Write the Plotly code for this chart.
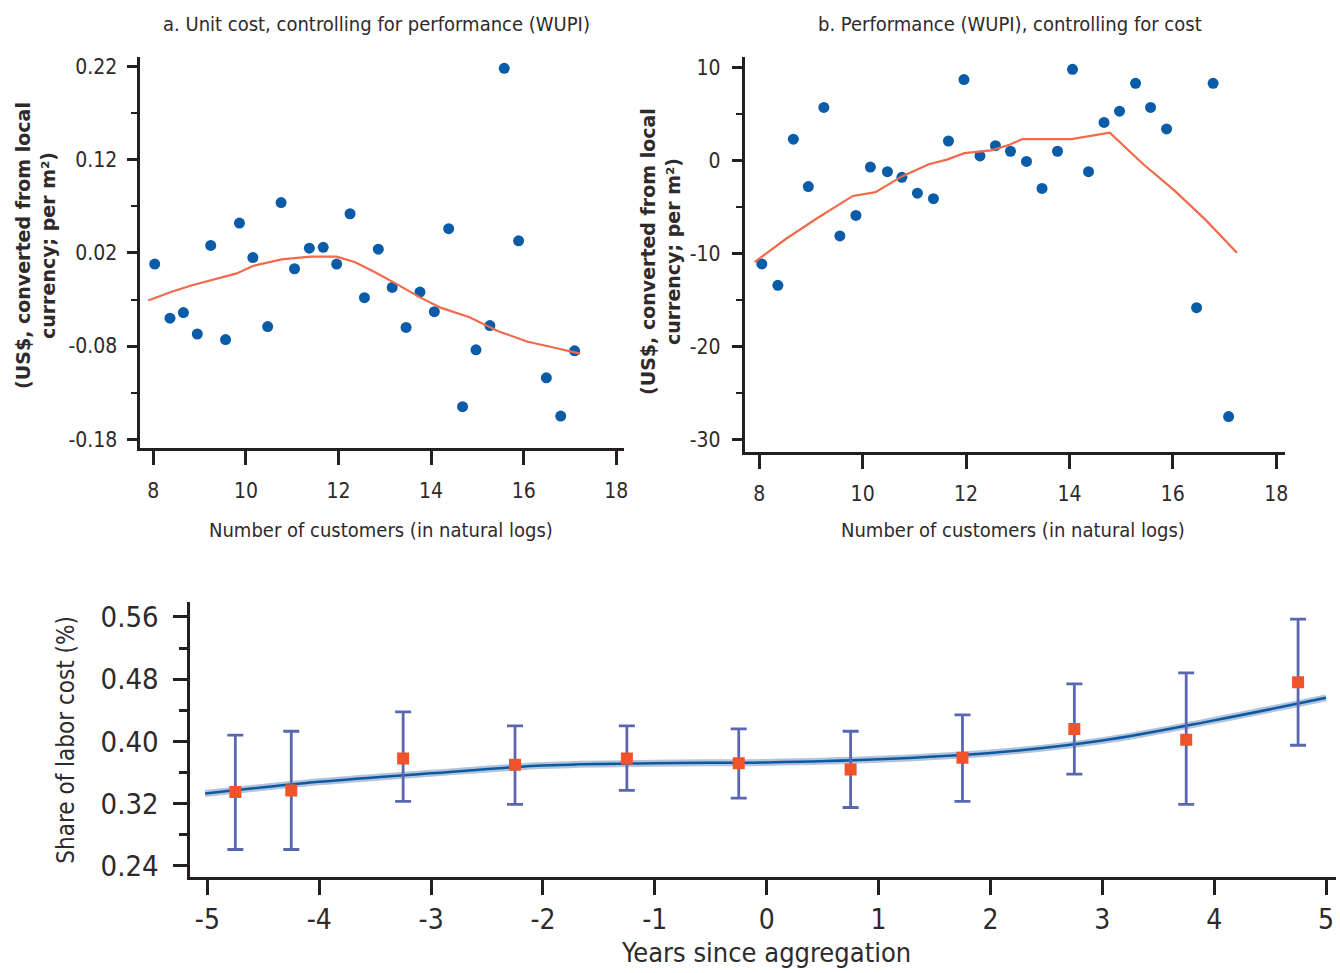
import plotly.graph_objects as go

# ---------------- Panel a: unit cost ----------------
a_x = [8.03, 8.36, 8.65, 8.95, 9.24, 9.56, 9.86, 10.15, 10.47, 10.76, 11.05, 11.37, 11.67, 11.96, 12.25,
       12.56, 12.86, 13.16, 13.46, 13.76, 14.07, 14.38, 14.68, 14.97, 15.27, 15.58, 15.89, 16.49, 16.80, 17.10]
a_y = [0.008, -0.050, -0.044, -0.067, 0.028, -0.073, 0.052, 0.015, -0.059, 0.074, 0.003, 0.025, 0.026, 0.008, 0.062,
       -0.028, 0.024, -0.017, -0.060, -0.022, -0.043, 0.046, -0.145, -0.084, -0.058, 0.218, 0.033, -0.114, -0.155, -0.085]
a_fit_x = [7.89, 8.38, 8.82, 9.26, 9.80, 10.15, 10.77, 11.39, 11.96, 12.36, 12.80, 13.24, 13.77, 14.22, 14.83,
           15.45, 16.07, 16.69, 17.22]
a_fit_y = [-0.031, -0.022, -0.015, -0.009, -0.002, 0.006, 0.013, 0.016, 0.016, 0.010, -0.001, -0.013, -0.028,
           -0.039, -0.049, -0.064, -0.075, -0.082, -0.088]
a_yticks = [0.22, 0.12, 0.02, -0.08, -0.18]
a_yticktext = ["0.22", "0.12", "0.02", "-0.08", "-0.18"]
a_yminor = [0.17, 0.07, -0.03, -0.13]

# ---------------- Panel b: performance ----------------
b_x = [8.05, 8.36, 8.66, 8.95, 9.25, 9.56, 9.87, 10.15, 10.48, 10.76, 11.06, 11.37, 11.66, 11.96, 12.27,
       12.57, 12.86, 13.17, 13.47, 13.77, 14.06, 14.37, 14.67, 14.97, 15.28, 15.57, 15.88, 16.46, 16.78, 17.08]
b_y = [-11.1, -13.4, 2.3, -2.8, 5.7, -8.1, -5.9, -0.7, -1.2, -1.8, -3.5, -4.1, 2.1, 8.7, 0.5,
       1.6, 1.0, -0.1, -3.0, 1.0, 9.8, -1.2, 4.1, 5.3, 8.3, 5.7, 3.4, -15.8, 8.3, -27.5]
b_fit_x = [7.91, 8.52, 9.12, 9.81, 10.25, 10.76, 11.28, 11.63, 11.97, 12.49, 12.84, 13.09, 14.04, 14.39, 14.78,
           15.43, 16.03, 16.64, 17.24]
b_fit_y = [-10.9, -8.4, -6.2, -3.8, -3.4, -1.7, -0.4, 0.1, 0.8, 1.1, 1.7, 2.3, 2.3, 2.6, 3.0,
           -0.4, -3.2, -6.4, -9.9]
b_yticks = [10, 0, -10, -20, -30]
b_yticktext = ["10", "0", "-10", "-20", "-30"]
b_yminor = [5, -5, -15, -25]

xticks_ab = [8, 10, 12, 14, 16, 18]

# ---------------- Bottom panel: share of labor cost ----------------
years = [-4.75, -4.25, -3.25, -2.25, -1.25, -0.25, 0.75, 1.75, 2.75, 3.75, 4.75]
share = [0.335, 0.337, 0.378, 0.370, 0.378, 0.372, 0.364, 0.379, 0.416, 0.402, 0.476]
share_hi = [0.408, 0.413, 0.438, 0.420, 0.420, 0.416, 0.413, 0.434, 0.474, 0.488, 0.557]
share_lo = [0.261, 0.261, 0.323, 0.319, 0.337, 0.327, 0.315, 0.323, 0.358, 0.319, 0.395]
fit_years = [-5.02, -4, -3, -2, -1, 0, 1, 2, 3, 4, 5]
fit_share = [0.333, 0.348, 0.359, 0.369, 0.372, 0.373, 0.377, 0.385, 0.401, 0.427, 0.456]
c_xticks = [-5, -4, -3, -2, -1, 0, 1, 2, 3, 4, 5]
c_xticktext = ["-5", "-4", "-3", "-2", "-1", "0", "1", "2", "3", "4", "5"]
c_yticks = [0.56, 0.48, 0.40, 0.32, 0.24]
c_yticktext = ["0.56", "0.48", "0.40", "0.32", "0.24"]
c_yminor = [0.52, 0.44, 0.36, 0.28]

W, H = 1340, 973
NARROW = "Liberation Sans Narrow, DejaVu Sans Condensed, Roboto Condensed, Arial Narrow, Liberation Sans, sans-serif"
WIDE = "DejaVu Sans, Liberation Sans, Arial, sans-serif"
TXT = "#2e2a2b"
AX = "#231f20"
BLUE = "#0b5ca8"
RED = "#f26a4c"

fig = go.Figure()

fig.add_trace(go.Scatter(x=a_x, y=a_y, mode="markers", marker=dict(color=BLUE, size=11),
                         xaxis="x", yaxis="y", showlegend=False))
fig.add_trace(go.Scatter(x=a_fit_x, y=a_fit_y, mode="lines", line=dict(color=RED, width=2.2),
                         xaxis="x", yaxis="y", showlegend=False))

fig.add_trace(go.Scatter(x=b_x, y=b_y, mode="markers", marker=dict(color=BLUE, size=11),
                         xaxis="x2", yaxis="y2", showlegend=False))
fig.add_trace(go.Scatter(x=b_fit_x, y=b_fit_y, mode="lines", line=dict(color=RED, width=2.2),
                         xaxis="x2", yaxis="y2", showlegend=False))

# fitted curve with light band
fig.add_trace(go.Scatter(x=fit_years, y=fit_share, mode="lines", line=dict(color="#b3c3dc", width=7, shape="spline"),
                         xaxis="x3", yaxis="y3", showlegend=False))
fig.add_trace(go.Scatter(x=fit_years, y=fit_share, mode="lines", line=dict(color="#0b5aa0", width=2.5, shape="spline"),
                         xaxis="x3", yaxis="y3", showlegend=False))
fig.add_trace(go.Scatter(
    x=years, y=share, mode="markers",
    marker=dict(color="#f0522a", size=12, symbol="square"),
    error_y=dict(type="data", symmetric=False,
                 array=[h - s for h, s in zip(share_hi, share)],
                 arrayminus=[s - l for s, l in zip(share, share_lo)],
                 color="#5a67b0", thickness=2.8, width=8),
    xaxis="x3", yaxis="y3", showlegend=False))

common_axis = dict(showgrid=False, zeroline=False, showline=True, linecolor=AX, linewidth=3,
                   ticks="outside", tickcolor=AX, tickwidth=2.5)

fig.update_layout(
    width=W, height=H,
    margin=dict(l=0, r=0, t=0, b=0),
    paper_bgcolor="white", plot_bgcolor="white",
    font=dict(family=NARROW, color=TXT),
    xaxis=dict(domain=[140 / W, 626 / W], range=[7.703, 18.17], anchor="y",
               tickvals=xticks_ab, ticklen=14, ticklabelstandoff=7,
               tickfont=dict(size=21, family=NARROW, color=TXT), **common_axis),
    yaxis=dict(domain=[1 - 450 / H, 1 - 55 / H], range=[-0.1896, 0.2306], anchor="x",
               tickvals=a_yticks, ticktext=a_yticktext, ticklen=10, ticklabelstandoff=5,
               minor=dict(tickvals=a_yminor, ticks="outside", ticklen=6, tickcolor=AX, tickwidth=2),
               tickfont=dict(size=21, family=NARROW, color=TXT), **common_axis),
    xaxis2=dict(domain=[747 / W, 1288.5 / W], range=[7.72, 18.164], anchor="y2",
                tickvals=xticks_ab, ticklen=14, ticklabelstandoff=7,
                tickfont=dict(size=21, family=NARROW, color=TXT), **common_axis),
    yaxis2=dict(domain=[1 - 453.6 / H, 1 - 55 / H], range=[-31.29, 11.17], anchor="x2",
                tickvals=b_yticks, ticktext=b_yticktext, ticklen=10, ticklabelstandoff=7,
                minor=dict(tickvals=b_yminor, ticks="outside", ticklen=6, tickcolor=AX, tickwidth=2),
                tickfont=dict(size=21, family=NARROW, color=TXT), **common_axis),
    xaxis3=dict(domain=[191 / W, 1.0], range=[-5.1515, 5.089], anchor="y3",
                tickvals=c_xticks, ticktext=c_xticktext, ticklen=15, ticklabelstandoff=1,
                tickfont=dict(size=28, family=NARROW, color=TXT), **common_axis),
    yaxis3=dict(domain=[1 - 882 / H, 1 - 605 / H], range=[0.226, 0.5791], anchor="x3",
                tickvals=c_yticks, ticktext=c_yticktext, ticklen=14, ticklabelstandoff=9,
                minor=dict(tickvals=c_yminor, ticks="outside", ticklen=8, tickcolor=AX, tickwidth=2.5),
                tickfont=dict(size=29, family=NARROW, color=TXT), **common_axis),
)

def ann(text, x, y, size, family=NARROW, angle=0, color=TXT):
    fig.add_annotation(text=text, x=x / W, y=1 - y / H, xref="paper", yref="paper",
                       showarrow=False, textangle=angle, xanchor="center", yanchor="middle",
                       font=dict(size=size, family=family, color=color))

ann("a. Unit cost, controlling for performance (WUPI)", 378, 22, 20)
ann("b. Performance (WUPI), controlling for cost", 1013, 22, 20)
ann("Number of customers (in natural logs)", 382, 532, 20)
ann("Number of customers (in natural logs)", 1016, 532, 20)
ann("<b>(US$, converted from local<br>currency; per m²)</b>", 36, 245, 19, family=WIDE, angle=-90)
ann("<b>(US$, converted from local<br>currency; per m²)</b>", 663, 252, 19, family=WIDE, angle=-90)
ann("Share of labor cost (%)", 66, 744, 24, angle=-90)
ann("Years since aggregation", 768, 958, 27)

fig.write_html("out.html", config={"displayModeBar": False},
               post_script="document.body.style.margin='0px';document.body.style.overflow='hidden';")
